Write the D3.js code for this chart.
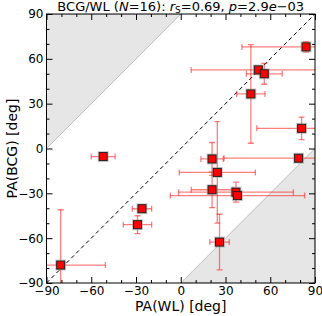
<!DOCTYPE html>
<html>
<head>
<meta charset="utf-8">
<script src="https://cdn.jsdelivr.net/npm/d3@7"></script>
<style>
  body { margin: 0; background: #fff; }
  svg { font-family: "DejaVu Sans", sans-serif; }
</style>
</head>
<body>
<div id="chart"></div>
<script>
// PA(WL) vs PA(BCG), one entry per cluster
const paWL    = [-80.5, -52, -26, -29, 84, 52, 56, 47, 81, 21, 79, 24.5, 21, 37, 38, 26];
const paBCG   = [-78, -5.4, -40.3, -51, 68, 52.6, 50, 36.5, 13.5, -7, -6.5, -16, -27.6, -29.2, -31.5, -62.6];
const errWL   = [30, 8, 6.5, 9.5, 43, 45, 12, 9.5, 30, 7.5, 50, 25.5, 14, 38.5, 45, 6.5];
const errBCG  = [37, 2, 2, 6, 3.5, 2, 7, 33, 7.5, 11, 2, 34, 12, 6.7, 2, 18.6];
const majorTicks = [-90, -60, -30, 0, 30, 60, 90];
const minorTicks = d3.range(-90, 91, 10);

const width = 322, height = 316;
const x = d3.scaleLinear().domain([-90, 90]).range([46.5, 315]);
const y = d3.scaleLinear().domain([-90, 90]).range([283, 14]);

const svg = d3.select('#chart').append('svg')
    .attr('width', width)
    .attr('height', height);

svg.append('clipPath').attr('id', 'plot')
  .append('rect')
    .attr('x', x(-90)).attr('y', y(90))
    .attr('width', x(90) - x(-90)).attr('height', y(-90) - y(90));

const g = svg.append('g').attr('clip-path', 'url(#plot)');

// excluded regions
const line = d3.line().x(d => x(d[0])).y(d => y(d[1]));
g.append('path')
    .attr('d', line([[-90, 0], [-90, 90], [0, 90]]) + 'Z')
    .attr('fill', '#e6e6e6').attr('stroke', '#bdbdbd').attr('stroke-width', 1);
g.append('path')
    .attr('d', line([[0, -90], [90, -90], [90, 0]]) + 'Z')
    .attr('fill', '#e6e6e6').attr('stroke', '#bdbdbd').attr('stroke-width', 1);

// one-to-one
g.append('path')
    .attr('d', line([[-90, -90], [90, 90]]))
    .attr('stroke', '#000').attr('stroke-width', 1)
    .attr('stroke-dasharray', '4,3').attr('fill', 'none');

const pts = paWL.map((v, i) => ({x: v, y: paBCG[i], ex: errWL[i], ey: errBCG[i]}));
const cap = 3;
const errColor = 'rgba(255,0,0,0.5)';

const eb = g.append('g').attr('stroke', errColor).attr('stroke-width', 1.3).attr('fill', 'none');
pts.forEach(d => {
    eb.append('line')
        .attr('x1', x(d.x - d.ex)).attr('x2', x(d.x + d.ex))
        .attr('y1', y(d.y)).attr('y2', y(d.y));
    eb.append('line')
        .attr('x1', x(d.x)).attr('x2', x(d.x))
        .attr('y1', y(d.y - d.ey)).attr('y2', y(d.y + d.ey));
    [d.x - d.ex, d.x + d.ex].forEach(v => {
        eb.append('line')
            .attr('x1', x(v)).attr('x2', x(v))
            .attr('y1', y(d.y) - cap).attr('y2', y(d.y) + cap);
    });
    [d.y - d.ey, d.y + d.ey].forEach(v => {
        eb.append('line')
            .attr('x1', x(d.x) - cap).attr('x2', x(d.x) + cap)
            .attr('y1', y(v)).attr('y2', y(v));
    });
});

const ms = 8;
g.selectAll('.halo')
    .data(pts)
    .enter()
    .append('rect')
    .attr('x', d => x(d.x) - ms / 2 - 1.5)
    .attr('y', d => y(d.y) - ms / 2 - 1.5)
    .attr('width', ms + 3).attr('height', ms + 3)
    .attr('fill', '#9a9a9a').attr('opacity', 0.5);
g.selectAll('.marker')
    .data(pts)
    .enter()
    .append('rect')
    .attr('x', d => x(d.x) - ms / 2)
    .attr('y', d => y(d.y) - ms / 2)
    .attr('width', ms).attr('height', ms)
    .attr('fill', '#ff0000').attr('stroke', '#222').attr('stroke-width', 1);

// axes, ticks inward on all four sides
const axes = [
    {gen: d3.axisBottom(x), tr: `translate(0,${y(-90)})`, labels: true},
    {gen: d3.axisTop(x), tr: `translate(0,${y(90)})`, labels: false},
    {gen: d3.axisLeft(y), tr: `translate(${x(-90)},0)`, labels: true},
    {gen: d3.axisRight(y), tr: `translate(${x(90)},0)`, labels: false}
];
axes.forEach(a => {
    const major = svg.append('g').attr('transform', a.tr)
        .call(a.gen.tickValues(majorTicks).tickSize(-6).tickPadding(a.labels ? 3 : 0)
              .tickFormat(a.labels ? (d => String(d).replace('-', '\u2212')) : ''));
    major.select('.domain').remove();
    major.selectAll('line').attr('stroke', '#000');
    major.selectAll('text').attr('font-size', 12).attr('fill', '#000')
        .attr('font-family', '"DejaVu Sans", sans-serif');
    const minor = svg.append('g').attr('transform', a.tr)
        .call(a.gen.tickValues(minorTicks.filter(t => !majorTicks.includes(t))).tickSize(-3).tickFormat(''));
    minor.select('.domain').remove();
    minor.selectAll('line').attr('stroke', '#000');
});

svg.append('rect')
    .attr('x', x(-90)).attr('y', y(90))
    .attr('width', x(90) - x(-90)).attr('height', y(-90) - y(90))
    .attr('fill', 'none').attr('stroke', '#000').attr('stroke-width', 1);

// title
const title = svg.append('text')
    .attr('x', (x(-90) + x(90)) / 2)
    .attr('y', 11)
    .attr('text-anchor', 'middle')
    .attr('font-size', 13);
title.append('tspan').text('BCG/WL (');
title.append('tspan').attr('font-style', 'italic').text('N');
title.append('tspan').text('=16): ');
title.append('tspan').attr('font-style', 'italic').text('r');
title.append('tspan').attr('font-size', 9).attr('dy', 2).text('S');
title.append('tspan').attr('dy', -2).text('=0.69, ');
title.append('tspan').attr('font-style', 'italic').text('p');
title.append('tspan').text('=2.9');
title.append('tspan').attr('font-style', 'italic').text('e');
title.append('tspan').text('\u221203');

svg.append('text')
    .attr('x', (x(-90) + x(90)) / 2)
    .attr('y', 311)
    .attr('text-anchor', 'middle')
    .attr('font-size', 14)
    .text('PA(WL) [deg]');

svg.append('text')
    .attr('transform', 'rotate(-90)')
    .attr('x', -(y(-90) + y(90)) / 2)
    .attr('y', 17)
    .attr('text-anchor', 'middle')
    .attr('font-size', 14)
    .text('PA(BCG) [deg]');
</script>
</body>
</html>
